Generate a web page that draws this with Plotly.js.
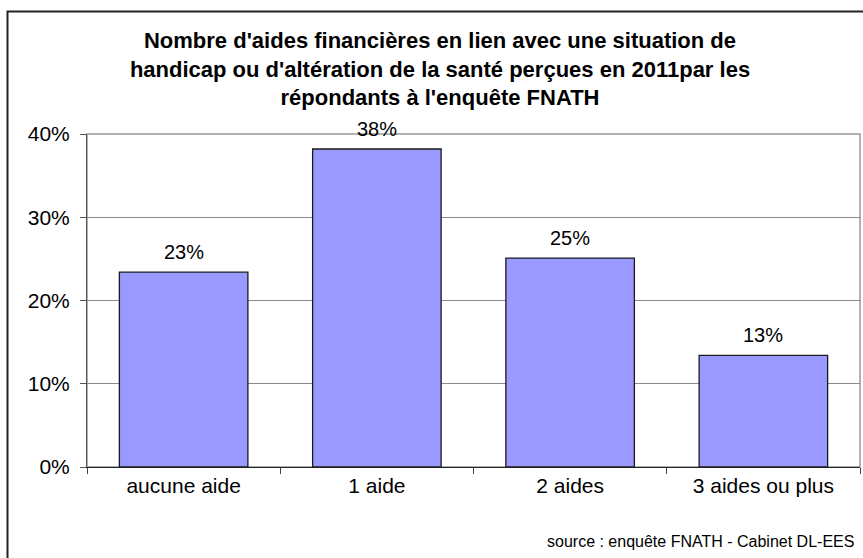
<!DOCTYPE html>
<html>
<head>
<meta charset="utf-8">
<script src="https://cdn.plot.ly/plotly-3.0.1.min.js"></script>
<style>html,body{margin:0;padding:0;background:#fff;}#chart{width:863px;height:558px;}</style>
</head>
<body>
<div id="chart"></div>
<script>
const categories = ["aucune aide", "1 aide", "2 aides", "3 aides ou plus"];
const shares = [0.234, 0.382, 0.251, 0.134];
const yTickValues = [0, 0.1, 0.2, 0.3, 0.4];
const yTickLabels = ["0%", "10%", "20%", "30%", "40%"];
const chartTitle = "Nombre d'aides financières en lien avec une situation de<br>handicap ou d'altération de la santé perçues en 2011par les<br>répondants à l'enquête FNATH";
const sourceNote = "source : enquête FNATH - Cabinet DL-EES";

const FONT = "Liberation Sans, Arial, sans-serif";
const W = 863, H = 558;
const L = 87, R = 3, T = 134, B = 91;
const pw = W - L - R, ph = H - T - B;
const px = v => (v - L) / pw;
const py = v => (H - B - v) / ph;

const trace = {
  type: "bar",
  x: categories,
  y: shares,
  marker: { color: "#9999FF", line: { color: "#1a1a1a", width: 1.3 } },
  hoverinfo: "skip"
};

const valueLabels = categories.map((c, i) => ({
  x: c, y: shares[i], xref: "x", yref: "y",
  text: Math.round(shares[i] * 100) + "%",
  showarrow: false, yanchor: "bottom", yshift: 7,
  font: { family: FONT, size: 20, color: "#000" }
}));

const layout = {
  width: W, height: H,
  margin: { l: L, r: R, t: T, b: B, pad: 0 },
  paper_bgcolor: "#fff",
  plot_bgcolor: "#fff",
  showlegend: false,
  bargap: 0.335,
  font: { family: FONT, color: "#000" },
  title: {
    text: chartTitle,
    font: { family: FONT, size: 22, color: "#000", weight: "bold" },
    x: 440 / W, xref: "container", xanchor: "center",
    y: 1 - 48 / H, yref: "container", yanchor: "middle"
  },
  xaxis: {
    type: "category",
    showgrid: false,
    showline: true, linecolor: "#222", linewidth: 1,
    ticks: "outside", tickson: "boundaries", ticklen: 6, tickcolor: "#444",
    tickfont: { family: FONT, size: 21, color: "#000" },
    zeroline: false, fixedrange: true
  },
  yaxis: {
    range: [0, 0.4],
    tickvals: yTickValues, ticktext: yTickLabels,
    showgrid: true, gridcolor: "#8a8a8a", gridwidth: 1,
    showline: true, linecolor: "#555", linewidth: 1,
    ticks: "outside", ticklen: 6, tickcolor: "#555",
    ticklabelstandoff: 6,
    tickfont: { family: FONT, size: 21, color: "#000" },
    zeroline: false, fixedrange: true
  },
  shapes: [
    { type: "rect", xref: "paper", yref: "paper", x0: 0, x1: 1, y0: 0, y1: 1,
      line: { color: "#999", width: 1.5 }, layer: "below" },
    { type: "rect", xref: "paper", yref: "paper",
      x0: px(7.5), x1: px(875), y0: py(575), y1: py(11.5),
      line: { color: "#222", width: 2 }, fillcolor: "rgba(0,0,0,0)" }
  ],
  annotations: valueLabels.concat([
    { text: sourceNote, xref: "paper", yref: "paper",
      x: px(856), y: py(541), xanchor: "right", yanchor: "middle",
      showarrow: false, font: { family: FONT, size: 16, color: "#000" } }
  ])
};

Plotly.newPlot("chart", [trace], layout, { staticPlot: true, displayModeBar: false });
</script>
</body>
</html>
